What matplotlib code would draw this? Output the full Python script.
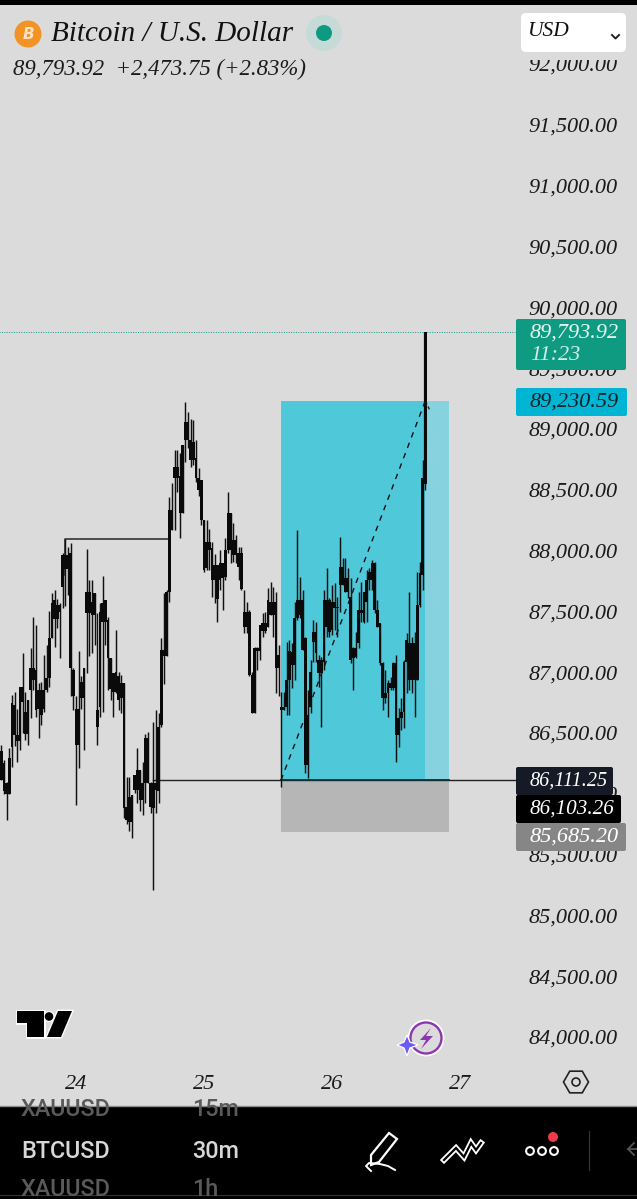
import numpy as np
import matplotlib
matplotlib.use('Agg')
import matplotlib.pyplot as plt
from matplotlib.patches import Rectangle, Circle, FancyBboxPatch, Polygon, RegularPolygon

# 30m candles
highs = [86400,86280,86100,86375,86810,86840,86700,86880,87155,86840,
         86770,87195,87455,87390,86910,86920,87140,87225,87500,87650,
         87675,87605,87565,87980,88095,88030,88065,87030,86800,87170,
         86965,87030,88010,87760,87760,87650,87485,87565,87790,87595,
         87455,87115,86990,87345,87005,86975,86910,86140,86140,85990,
         86155,86375,86195,86265,86495,86510,86100,86590,86690,86660,
         87280,87650,87675,88443,88555,88826,88826,88800,88870,89220,
         89140,89085,89075,88910,88675,88580,88250,88250,88180,88070,
         87970,87880,88004,87895,88100,88484,88306,88223,88128,88032,
         88032,87675,87580,87510,87005,87210,87210,87390,87485,87497,
         87690,87745,87703,87662,87225,86840,86840,87250,87264,87236,
         87579,88168,87785,87675,87291,86852,87099,87428,87414,87140,
         87127,87675,87853,87606,87716,87730,87620,88113,87935,87935,
         87853,87771,87209,87332,87661,87743,87661,87839,87853,87922,
         87908,87593,87401,87085,87017,86935,86962,87085,87140,86702,
         86784,87099,87318,87661,87291,87332,87826,87908,88745,89793.92]
lows = [86110,86000,85785,86000,86220,86390,86265,86360,86500,86440,
        86400,86620,86855,86635,86455,86565,86675,86840,86880,87280,
        87210,87360,87115,87525,87540,87635,86800,86690,85910,86210,
        86700,86360,86990,87130,87155,87225,86400,86635,86675,87225,
        86855,86770,86635,86825,86690,86660,85800,85755,85690,85635,
        86005,85920,85855,85825,85920,86085,85840,85205,85840,85920,
        86550,86905,87130,87580,88170,88170,88485,88100,88306,88730,
        88840,88690,88700,88565,88445,88210,87825,87840,87840,87620,
        87566,87415,87675,87510,87757,87977,87895,87908,87895,87758,
        87675,87320,87320,86965,86660,86660,87020,87100,87292,87320,
        87375,87470,87292,86825,86800,86058,86690,86647,86647,86866,
        86935,87428,87442,87181,86167,86126,86660,87085,87085,86880,
        86551,87017,87291,87291,87305,87346,87291,87497,87716,87661,
        87606,87072,86853,87113,87195,87414,87401,87414,87675,87675,
        87483,87373,87058,86688,86743,86633,86853,86853,86263,86387,
        86524,86537,86825,86853,86825,86633,86935,87538,87675,88500]
body_top = [86350,86250,86085,86290,86745,86730,86485,86880,86880,86675,
            86770,87030,87030,87020,86855,86855,86855,86950,87280,87565,
            87595,87550,87550,87960,87960,87960,87980,87020,86700,86700,
            86920,87030,87660,87660,87580,87650,86690,87495,87565,87595,
            87430,87115,86990,87005,86965,86910,86910,85895,85975,85990,
            86155,86195,86195,86085,86455,86455,86085,86085,86085,86550,
            87180,87180,87660,88333,88333,88690,88690,88610,88870,89060,
            89060,88910,88895,88760,88595,88580,88250,88070,88070,88018,
            87880,87880,87895,87895,88004,88306,88306,88086,88086,87977,
            87977,87495,87495,87495,86975,87195,87195,87390,87400,87400,
            87595,87580,87580,87580,87140,86715,86715,86935,87170,87168,
            87442,87593,87593,87593,87277,86647,87003,87332,87332,87099,
            87099,87593,87593,87593,87579,87579,87538,87867,87867,87771,
            87771,87620,87195,87195,87510,87510,87661,87757,87826,87894,
            87894,87510,87401,87072,86825,86907,86907,87072,87072,86620,
            86674,87085,87264,87236,87236,87236,87551,87812,88600,89793.92]
body_bot = [86110,86020,86000,86000,86385,86485,86430,86430,86755,86495,
            86495,86855,86935,86690,86700,86650,86700,86855,86950,87280,
            87440,87440,87495,87700,87850,87850,87030,86800,86400,86400,
            86785,86785,87485,87485,87470,87470,86550,86715,87415,87415,
            87115,86865,86840,86840,86770,86785,85880,85785,85770,85770,
            86030,86030,85950,85950,86085,86085,85895,85880,86030,86020,
            86565,87130,87130,87660,88170,88595,88595,88306,88306,88910,
            88910,88745,88745,88595,88500,88250,87840,87855,88005,87757,
            87757,87600,87757,87770,87785,88004,88004,87963,87963,87867,
            87680,87375,87375,86975,86660,86660,87170,87170,87335,87335,
            87375,87470,87470,87030,87030,86690,86690,86715,86935,87058,
            87058,87442,87469,87181,86236,86236,86715,87250,87154,86990,
            86990,87085,87373,87332,87346,87524,87524,87716,87716,87661,
            87661,87099,87113,87127,87236,87483,87414,87579,87757,87757,
            87510,87373,87072,86784,86784,86825,86866,86866,86483,86483,
            86620,86674,87085,86935,86935,86935,86935,87551,87800,88550]

price_ticks = list(range(84000, 92500, 500))
day_ticks = [24, 25, 26, 27]

last_price = 89793.92
target = 89230.59
entry = 86111.25
stop = 85685.20
swing_high = 88095

GREY = '#DBDBDB'
SERIF = 'Liberation Serif'
LABEL_SIZE = 16

fig = plt.figure(figsize=(6.37, 11.99), dpi=100, facecolor=GREY)

# chart area: y 0..1106 px, 973 px per 8000 USD, 128 px per day
ax = fig.add_axes([0, 93 / 1199, 1, 1106 / 1199], facecolor=GREY)
per_px = 8000 / 973
ax.set_ylim(84000 - 69 * per_px, 84000 + 1037 * per_px)
ax.set_xlim(24 - 76 / 128, 24 + 561 / 128)

days = 24 + (np.arange(len(highs)) - 28) / 48
highs = np.array(highs)
lows = np.array(lows)
body_top = np.array(body_top)
body_bot = np.array(body_bot)

# long position tool
x0, x1, x2 = 24 + 205 / 128, days[-1], 24 + 373 / 128
ax.add_patch(Rectangle((x0, entry), x1 - x0, target - entry, fc='#4FC8D9', ec='none', zorder=1))
ax.add_patch(Rectangle((x1, entry), x2 - x1, target - entry, fc='#86D3DF', ec='none', zorder=1))
ax.add_patch(Rectangle((x0, stop), x2 - x0, entry - stop, fc='#B6B6B6', ec='none', zorder=1))

ax.vlines(days, lows, highs, color='#111111', lw=1.05, zorder=3)
ax.bar(days, body_top - body_bot, bottom=body_bot, width=1.0 / 48, color='#0A0A0A', lw=0, zorder=3)
ax.vlines(days[-1], body_bot[-1], highs[-1], color='#0A0A0A', lw=1.6, zorder=4)

ax.plot([x0, x2], [entry, entry], color='#123038', lw=1.3, zorder=4)
ax.plot([days[57], 24 + 439 / 128], [entry, entry], color='#222222', lw=1.0, zorder=2)
ax.plot([x0, days[-1]], [entry, target], color='#111111', lw=1.0, ls=(0, (4, 4)), zorder=4)
ax.plot([days[-1], days[-1] + 4 / 128], [target, target - 70], color='#111111', lw=0.9, ls=(0, (3, 2)), zorder=4)
ax.plot([days[24], days[24], days[63]], [87800, swing_high, swing_high], color='#333333', lw=1.2, zorder=2)
ax.plot([days[0] - 2, 24 + 439 / 128], [last_price, last_price], color='#0F9B81', lw=0.7, ls=(0, (1, 1.5)), zorder=2)

ax.yaxis.tick_right()
ax.set_yticks(price_ticks)
ax.set_yticklabels([f'{p:,.2f}' for p in price_ticks], family=SERIF, style='italic', fontsize=LABEL_SIZE, color='#1A1A1A')
ax.tick_params(axis='y', length=0, pad=-78)
ax.set_xticks(day_ticks)
ax.set_xticklabels([str(d) for d in day_ticks], family=SERIF, style='italic', fontsize=LABEL_SIZE, color='#1A1A1A')
ax.tick_params(axis='x', length=0, pad=-22)
for s in ax.spines.values():
    s.set_visible(False)

# overlay in pixel coordinates for the app UI
ui = fig.add_axes([0, 0, 1, 1], zorder=5)
ui.set_xlim(0, 637)
ui.set_ylim(1199, 0)
ui.axis('off')

ui.add_patch(Rectangle((0, 4), 637, 56, fc=GREY, ec='none'))
ui.add_patch(Rectangle((0, 0), 637, 4.5, fc='black', ec='none'))
ui.add_patch(Circle((28, 34), 13.5, fc='#F39325', ec='none'))
ui.text(28, 34.5, 'B', color='#FBE3C4', fontsize=11, weight='bold', style='italic', family='DejaVu Sans', ha='center', va='center')
ui.text(51, 34, 'Bitcoin / U.S. Dollar', family=SERIF, style='italic', fontsize=21, color='#111111', va='center')
ui.add_patch(Circle((324, 33), 18, fc='#C6DBD7', ec='none'))
ui.add_patch(Circle((324, 33), 8, fc='#0D9A81', ec='none'))
ui.text(13, 69, '89,793.92  +2,473.75 (+2.83%)', family=SERIF, style='italic', fontsize=16.4, color='#1A1A1A', va='center')
ui.add_patch(FancyBboxPatch((524, 16), 99, 33, boxstyle='round,pad=3,rounding_size=5', fc='white', ec='none'))
ui.text(527, 32, 'USD', family=SERIF, style='italic', fontsize=15.5, color='#111111', va='center')
ui.plot([612, 615.5, 619], [35, 38.5, 35], color='#222222', lw=1.4)

# price tags
tags = [(516, 388, 111, 28, '#00B4D3', '89,230.59', '#10222A', 402, 16),
        (516, 767, 97, 28, '#151A26', '86,111.25', 'white', 781, 14.6),
        (516, 795, 105, 28, '#000000', '86,103.26', 'white', 809, 15.2),
        (516, 823, 110, 28, '#868686', '85,685.20', 'white', 837, 16)]
ui.add_patch(FancyBboxPatch((517, 320), 108, 49, boxstyle='round,pad=1,rounding_size=2', fc='#0F9B81', ec='none'))
ui.text(530, 333, '89,793.92', family=SERIF, style='italic', fontsize=LABEL_SIZE, color='#E8F7F3', va='center')
ui.text(530, 356, '11:23', family=SERIF, style='italic', fontsize=LABEL_SIZE, color='#CDEDE6', va='center')
for x, y, w, h, c, t, tc, ty, fs in tags:
    ui.add_patch(FancyBboxPatch((x + 1, y + 1), w - 2, h - 2, boxstyle='round,pad=1,rounding_size=2', fc=c, ec='none'))
    ui.text(530, ty, t, family=SERIF, style='italic', fontsize=fs, color=tc, va='center')

# tradingview logo
logo_t = [(17, 1011), (44, 1011), (44, 1037), (27, 1037), (27, 1023), (17, 1023)]
logo_s = [(58, 1011), (72, 1011), (61, 1037), (47, 1037)]
for pts in (logo_t, logo_s):
    ui.add_patch(Polygon(pts, fc='black', ec='white', lw=2, joinstyle='miter'))
ui.add_patch(Circle((49, 1016.5), 5.5, fc='white', ec='none'))
ui.add_patch(Circle((49, 1016.5), 4.3, fc='black', ec='none'))
ui.add_patch(Polygon(logo_t, fc='black', ec='none'))
ui.add_patch(Polygon(logo_s, fc='black', ec='none'))

# lightning badge
ui.add_patch(Circle((426, 1038), 17, fc='none', ec='white', lw=2))
ui.add_patch(Circle((426, 1038), 15.5, fc=GREY, ec='#8E36B0', lw=1.7))
ui.add_patch(Polygon([(431, 1028), (420, 1040), (426, 1040), (421, 1049), (433, 1036), (426, 1036)], fc='#8E36B0', ec='none'))
ui.add_patch(Polygon([(407, 1035), (410, 1042), (418, 1045), (410, 1048), (407, 1056), (404, 1048), (397, 1045), (404, 1042)], fc='#6C5CF5', ec='white', lw=0.9))

# settings hexagon
ui.add_patch(RegularPolygon((576, 1082), 6, radius=12.5, orientation=np.pi / 6, fc='none', ec='#222222', lw=1.2))
ui.add_patch(Circle((576, 1082), 4, fc='none', ec='#222222', lw=1.2))

# bottom bar
ui.add_patch(Rectangle((0, 1106), 637, 93, fc='black', ec='none'))
ui.plot([0, 637], [1105.5, 1105.5], color='#8A8A8A', lw=1)
clip = Rectangle((0, 1107), 637, 87, transform=ui.transData)
for txt, x, y, c in [('XAUUSD', 21, 1110, '#5A5A5A'), ('15m', 192, 1110, '#5A5A5A'),
                     ('BTCUSD', 21, 1151, '#D8D8D8'), ('30m', 192, 1151, '#D8D8D8'),
                     ('XAUUSD', 21, 1190, '#5A5A5A'), ('1h', 192, 1190, '#5A5A5A')]:
    t = ui.text(x, y, txt, family='Roboto', fontsize=16.8, color=c, va='center', weight='medium')
    t.set_clip_path(clip)
ui.plot([0, 637], [1194.5, 1194.5], color='#333333', lw=0.8)

# pencil, chevrons, menu
ui.add_patch(Polygon([(371, 1155), (389, 1133), (397, 1139), (379, 1162), (371, 1165)], fc='none', ec='white', lw=1.6))
ui.plot([371, 366, 369, 380, 388, 395], [1171, 1166, 1163, 1164, 1166, 1170], color='white', lw=1.4)
chev_x = [444, 456, 464, 471, 476, 481]
chev_y = [1160, 1148, 1157, 1143, 1150, 1143]
ui.plot(chev_x, chev_y, color='white', lw=4.2, solid_joinstyle='miter')
ui.plot(chev_x, chev_y, color='black', lw=1.6, solid_joinstyle='miter')
for cx in [530, 542, 554]:
    ui.add_patch(Circle((cx, 1151), 3.9, fc='none', ec='white', lw=1.5))
ui.add_patch(Circle((553, 1137), 5, fc='#EE3B4A', ec='none'))
ui.plot([589, 589], [1131, 1170], color='#333333', lw=0.9)
ui.plot([634, 628, 634], [1143, 1149, 1155], color='#555555', lw=1.3)
ui.plot([628, 637], [1149, 1149], color='#555555', lw=1.3)

fig.savefig('out.png', dpi=100, facecolor=GREY)
